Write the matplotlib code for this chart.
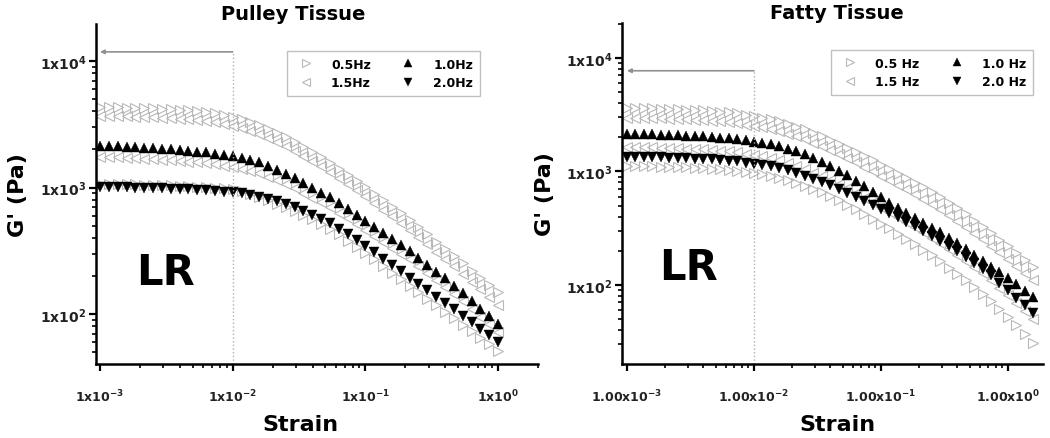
import matplotlib.pyplot as plt
from matplotlib.ticker import NullFormatter

plt.rcParams['font.family'] = 'DejaVu Sans'
plt.rcParams['font.weight'] = 'bold'
plt.rcParams['axes.labelweight'] = 'bold'
plt.rcParams['mathtext.default'] = 'bf'

# strain sweep (15 points per decade)
STRAIN_PULLEY = [0.001, 0.001166, 0.001359, 0.001585, 0.001848, 0.002154, 0.002512, 0.002929,
                 0.003415, 0.003981, 0.004642, 0.005412, 0.00631, 0.007356, 0.008577,
                 0.01, 0.01166, 0.01359, 0.01585, 0.01848, 0.02154, 0.02512, 0.02929,
                 0.03415, 0.03981, 0.04642, 0.05412, 0.0631, 0.07356, 0.08577,
                 0.1, 0.1166, 0.1359, 0.1585, 0.1848, 0.2154, 0.2512, 0.2929,
                 0.3415, 0.3981, 0.4642, 0.5412, 0.631, 0.7356, 0.8577, 1.0]
STRAIN_FATTY = STRAIN_PULLEY + [1.166, 1.359, 1.585]

# Pulley tissue G' (Pa)
PULLEY_05_A = [4325, 4315, 4305, 4285, 4266, 4246, 4217, 4188, 4150, 4111, 4064, 4009, 3945, 3873, 3758,
               3631, 3475, 3296, 3105, 2904, 2704, 2500, 2301, 2104, 1919, 1742, 1574, 1413, 1265, 1130,
               1007, 895, 794, 705, 624, 551, 485, 427, 374, 328, 288, 252, 220, 193, 169, 148]
PULLEY_15_A = [3680, 3672, 3664, 3647, 3630, 3612, 3587, 3562, 3530, 3496, 3455, 3408, 3353, 3292, 3194,
               3086, 2953, 2800, 2637, 2466, 2295, 2121, 1952, 1784, 1626, 1475, 1332, 1195, 1069, 954,
               849, 754, 668, 592, 523, 461, 405, 356, 311, 272, 238, 207, 180, 157, 136, 117]
PULLEY_10 = [2128, 2118, 2109, 2094, 2080, 2065, 2046, 2028, 2004, 1982, 1954, 1923, 1892, 1854, 1811,
             1766, 1714, 1656, 1578, 1479, 1380, 1282, 1189, 1089, 995, 912, 838, 752, 675, 605,
             543, 488, 438, 393, 352, 316, 279, 245, 216, 191, 168, 146, 127, 110, 96, 83]
PULLEY_15_B = [1745, 1737, 1729, 1717, 1706, 1693, 1678, 1663, 1643, 1625, 1602, 1577, 1551, 1520, 1485,
               1448, 1405, 1358, 1294, 1213, 1140, 1064, 990, 910, 833, 766, 705, 634, 570, 512,
               461, 415, 373, 335, 300, 270, 239, 210, 186, 164, 145, 126, 110, 95, 83, 72]
PULLEY_20 = [1009, 1007, 1005, 1002, 1000, 995, 991, 986, 979, 973, 966, 957, 948, 940, 929,
             916, 897, 873, 843, 811, 776, 740, 697, 653, 610, 566, 525, 473, 426, 382,
             343, 307, 274, 244, 218, 194, 173, 154, 137, 122, 109, 97, 86, 76, 68, 60]
PULLEY_05_B = [1070, 1067, 1065, 1062, 1060, 1055, 1050, 1045, 1038, 1031, 1024, 1014, 1005, 996, 985,
               971, 933, 890, 843, 795, 745, 703, 655, 607, 561, 515, 473, 426, 379, 340,
               302, 270, 238, 212, 190, 167, 149, 132, 118, 104, 93, 82, 73, 65, 58, 51]

# Fatty tissue G' (Pa)
FATTY_05_A = [3622, 3614, 3606, 3589, 3573, 3556, 3532, 3508, 3475, 3443, 3404, 3357, 3304, 3243, 3155,
              3055, 2972, 2871, 2754, 2624, 2483, 2339, 2193, 2046, 1901, 1758, 1622, 1493, 1371, 1256,
              1148, 1050, 957, 873, 794, 723, 656, 594, 530, 471, 418, 369, 325, 286, 251,
              219, 191, 167, 145]
FATTY_15_A = [2970, 2963, 2957, 2943, 2930, 2916, 2896, 2877, 2850, 2823, 2791, 2753, 2709, 2659, 2587,
              2505, 2437, 2354, 2258, 2152, 2036, 1913, 1790, 1666, 1544, 1424, 1310, 1203, 1102, 1007,
              918, 838, 762, 693, 629, 571, 517, 467, 415, 368, 326, 287, 252, 221, 194,
              169, 146, 127, 110]
FATTY_10 = [2138, 2133, 2128, 2118, 2109, 2099, 2084, 2070, 2051, 2032, 2009, 1982, 1950, 1914, 1871,
            1820, 1778, 1726, 1663, 1589, 1503, 1409, 1312, 1213, 1114, 1016, 923, 826, 740, 662,
            593, 531, 475, 431, 390, 353, 320, 290, 260, 233, 209, 185, 164, 145, 129,
            114, 101, 89, 79]
FATTY_15_B = [1645, 1641, 1636, 1631, 1621, 1612, 1603, 1590, 1576, 1559, 1543, 1521, 1497, 1469, 1434,
              1394, 1353, 1304, 1248, 1185, 1118, 1046, 976, 905, 837, 771, 710, 646, 588, 534,
              485, 438, 394, 358, 322, 290, 261, 233, 208, 185, 163, 144, 126, 110, 94,
              81, 69, 59, 50]
FATTY_20 = [1343, 1340, 1337, 1334, 1327, 1321, 1315, 1306, 1297, 1285, 1274, 1259, 1242, 1222, 1197,
            1169, 1143, 1109, 1069, 1023, 973, 918, 863, 807, 752, 698, 646, 597, 552, 509,
            469, 431, 394, 361, 329, 299, 272, 245, 221, 199, 177, 157, 138, 121, 104,
            90, 77, 66, 56]
FATTY_05_B = [1115, 1112, 1110, 1107, 1101, 1096, 1091, 1084, 1076, 1067, 1057, 1045, 1031, 1013, 991,
              967, 943, 913, 878, 838, 795, 748, 702, 654, 607, 561, 510, 465, 423, 383,
              347, 314, 280, 253, 227, 203, 182, 161, 142, 125, 110, 96, 83, 72, 61,
              52, 44, 37, 31]

LR_LIMIT = 0.01
LR_TOP_PULLEY = 11800
LR_TOP_FATTY = 7700

X_TICKS = [1e-3, 1e-2, 1e-1, 1e0]
PULLEY_XLABELS = ['1x10$^{-3}$', '1x10$^{-2}$', '1x10$^{-1}$', '1x10$^{0}$']
FATTY_XLABELS = ['1.00x10$^{-3}$', '1.00x10$^{-2}$', '1.00x10$^{-1}$', '1.00x10$^{0}$']
Y_TICKS = [1e2, 1e3, 1e4]
Y_LABELS = ['1x10$^{2}$', '1x10$^{3}$', '1x10$^{4}$']

GRAY = '#b8b8b8'
fig = plt.figure(figsize=(10.5, 4.39), dpi=100)
ax1 = fig.add_axes([0.0914, 0.1686, 0.421, 0.7745])
ax2 = fig.add_axes([0.5924, 0.1686, 0.401, 0.7768])


def draw(ax, strain, g05a, g15a, g15b, g05b, g10, g20, labels, xlim, ylim, lr_top, sep, anchor):
    ax.set_xscale('log')
    ax.set_yscale('log')
    ax.set_xlim(*xlim)
    ax.set_ylim(*ylim)
    gray = dict(ls='none', ms=6.5, mfc='none', mec=GRAY, mew=0.8)
    h05, = ax.plot(strain, g05a, marker='>', label='0.5' + sep + 'Hz', **gray)
    h15, = ax.plot(strain, g15a, marker='<', label='1.5' + sep + 'Hz', **gray)
    ax.plot(strain, g15b, marker='<', **gray)
    ax.plot(strain, g05b, marker='>', **gray)
    black = dict(ls='none', ms=6.5, mfc='black', mec='black', mew=0.3)
    h10, = ax.plot(strain, g10, marker='^', label='1.0' + sep + 'Hz', **black)
    h20, = ax.plot(strain, g20, marker='v', label='2.0' + sep + 'Hz', **black)

    ax.plot([LR_LIMIT, LR_LIMIT], [ylim[0], lr_top], ls=':', color='#b0b0b0', lw=1)
    ax.annotate('', xy=(strain[0], lr_top), xytext=(LR_LIMIT, lr_top),
                arrowprops=dict(arrowstyle='-|>', color='#909090', lw=1.2,
                                mutation_scale=6, shrinkA=0, shrinkB=0))

    for side in ('top', 'right'):
        ax.spines[side].set_visible(False)
    for side in ('left', 'bottom'):
        ax.spines[side].set_linewidth(1.8)
    ax.set_xticks(X_TICKS, labels=labels)
    ax.set_yticks(Y_TICKS, labels=Y_LABELS)
    ax.xaxis.set_minor_formatter(NullFormatter())
    ax.yaxis.set_minor_formatter(NullFormatter())
    ax.tick_params(which='major', length=5, width=1.6, direction='out')
    ax.tick_params(which='minor', length=3, width=1.2, direction='out')
    ax.tick_params(axis='x', which='major', labelsize=9, pad=12, labelcolor='#222222')
    ax.tick_params(axis='y', which='major', labelsize=10, pad=2, labelcolor='#222222')

    leg = ax.legend(handles=[h05, h15, h10, h20], ncol=2, fontsize=9, frameon=True,
                    fancybox=False, edgecolor='#c0c0c0', framealpha=1,
                    handlelength=2.0, handletextpad=1.0, columnspacing=2.0,
                    markerscale=0.8, borderpad=0.55, labelspacing=0.45, borderaxespad=0,
                    loc='upper right', bbox_to_anchor=anchor)
    leg.get_frame().set_linewidth(1.0)


draw(ax1, STRAIN_PULLEY, PULLEY_05_A, PULLEY_15_A, PULLEY_15_B, PULLEY_05_B, PULLEY_10, PULLEY_20,
     PULLEY_XLABELS, (0.000933, 2.0), (40.3, 19600), LR_TOP_PULLEY, '', (0.869, 0.921))
draw(ax2, STRAIN_FATTY, FATTY_05_A, FATTY_15_A, FATTY_15_B, FATTY_05_B, FATTY_10, FATTY_20,
     FATTY_XLABELS, (0.000914, 1.89), (20.1, 20300), LR_TOP_FATTY, ' ', (0.976, 0.921))

ax1.text(0.446, 1.032, 'Pulley Tissue', transform=ax1.transAxes, ha='center', va='center', fontsize=14)
ax2.text(0.511, 1.032, 'Fatty Tissue', transform=ax2.transAxes, ha='center', va='center', fontsize=14)

ax1.text(0.158, 0.27, 'LR', transform=ax1.transAxes, ha='center', va='center', fontsize=30)
ax2.text(0.157, 0.285, 'LR', transform=ax2.transAxes, ha='center', va='center', fontsize=30)

ax1.set_xlabel('Strain', fontsize=16)
ax2.set_xlabel('Strain', fontsize=16)
ax1.xaxis.set_label_coords(0.462, -0.148)
ax2.xaxis.set_label_coords(0.511, -0.148)
ax1.set_ylabel("G' (Pa)", fontsize=16)
ax2.set_ylabel("G' (Pa)", fontsize=16)
ax1.yaxis.set_label_coords(-0.154, 0.5)
ax2.yaxis.set_label_coords(-0.159, 0.5)

fig.savefig('out.png', dpi=100)
